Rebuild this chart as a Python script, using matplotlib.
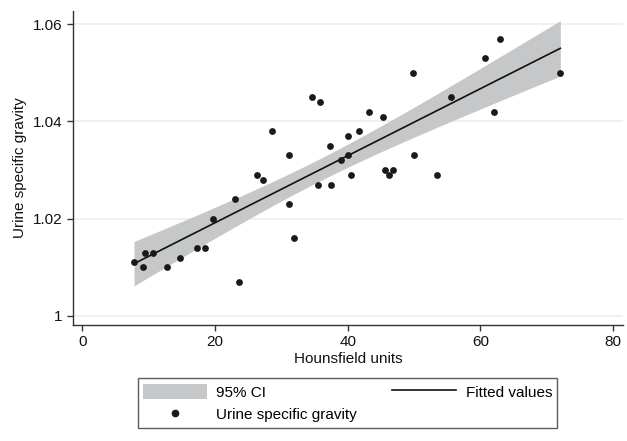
import numpy as np
import matplotlib
matplotlib.use("Agg")
import matplotlib.pyplot as plt
from matplotlib.patches import Patch
from matplotlib.lines import Line2D

plt.rcParams['font.family'] = ['Liberation Sans', 'DejaVu Sans']

# Data
hounsfield = [7.8, 9.1, 9.4, 10.6, 12.7, 14.75, 17.3, 18.5, 19.7, 23.05, 23.6,
              26.3, 27.2, 28.6, 31.2, 31.2, 31.9, 34.6, 35.8, 35.6, 37.4, 37.5,
              39.0, 40.05, 40.05, 40.56, 41.7, 43.2, 45.3, 45.7, 46.3, 46.9,
              49.9, 50.0, 53.5, 55.6, 60.7, 62.0, 62.9, 72.05]
gravity = [1.011, 1.010, 1.013, 1.013, 1.010, 1.012, 1.014, 1.014, 1.020, 1.024, 1.007,
           1.029, 1.028, 1.038, 1.033, 1.023, 1.016, 1.045, 1.044, 1.027, 1.035, 1.027,
           1.032, 1.037, 1.033, 1.029, 1.038, 1.042, 1.041, 1.030, 1.029, 1.030,
           1.050, 1.033, 1.029, 1.045, 1.053, 1.042, 1.057, 1.050]

xticks = [0, 20, 40, 60, 80]
yticks = [1.00, 1.02, 1.04, 1.06]
ytick_labels = ["1", "1.02", "1.04", "1.06"]

x = np.array(hounsfield)
y = np.array(gravity)
n = len(x)
b1, b0 = np.polyfit(x, y, 1)
resid = y - (b0 + b1 * x)
s = np.sqrt(np.sum(resid ** 2) / (n - 2))
xbar = x.mean()
sxx = np.sum((x - xbar) ** 2)
tcrit = 2.024
xg = np.linspace(x.min(), x.max(), 200)
yg = b0 + b1 * xg
se = s * np.sqrt(1.0 / n + (xg - xbar) ** 2 / sxx)
lo, hi = yg - tcrit * se, yg + tcrit * se

FS = 11
fig = plt.figure(figsize=(6.27, 4.41), dpi=100)
ax = fig.add_axes([73/627, 1 - 325/441, (623-73)/627, (325-11)/441])

ci_color = '#c6c7c8'
ax.fill_between(xg, lo, hi, color=ci_color, linewidth=0, zorder=2)
ax.plot(xg, yg, color='#111111', linewidth=1.2, zorder=3)
ax.scatter(x, y, s=24, color='#1a1a1a', zorder=4, linewidths=0)

ax.set_xlim(-1.4, 81.5)
ax.set_ylim(0.99814, 1.0627)
ax.set_xticks(xticks)
ax.set_yticks(yticks)
ax.set_yticklabels(ytick_labels)
for v in yticks:
    ax.axhline(v, color='#eeeeee', linewidth=1.2, zorder=1)

for sp in ['top', 'right']:
    ax.spines[sp].set_visible(False)
for sp in ['left', 'bottom']:
    ax.spines[sp].set_color('#333333')
    ax.spines[sp].set_linewidth(1.0)
ax.tick_params(axis='both', direction='out', length=4.5, width=1.0, color='#333333',
               labelsize=FS, labelcolor='#111111', pad=3)

ax.set_xlabel("Hounsfield units", fontsize=FS, color='#111111', labelpad=2)
ax.set_ylabel("Urine specific gravity", fontsize=FS, color='#111111', labelpad=4)

handles = [Patch(facecolor=ci_color, edgecolor='none'),
           Line2D([], [], linestyle='none', marker='o', markersize=4.5,
                  color='#1a1a1a'),
           Line2D([], [], color='#111111', linewidth=1.2)]
labels = ["95% CI", "Urine specific gravity", "Fitted values"]
leg = fig.legend(handles, labels, ncol=2, loc='center',
                 bbox_to_anchor=(347.5/627, 38/441), bbox_transform=fig.transFigure,
                 fontsize=FS, frameon=True, fancybox=False, handlelength=4.2,
                 handleheight=1.2, columnspacing=2.3, labelspacing=0.45,
                 handletextpad=0.6, borderpad=0.35, borderaxespad=0)
leg.get_frame().set_edgecolor('#333333')
leg.get_frame().set_linewidth(1.0)

fig.savefig("out.png", dpi=100)
